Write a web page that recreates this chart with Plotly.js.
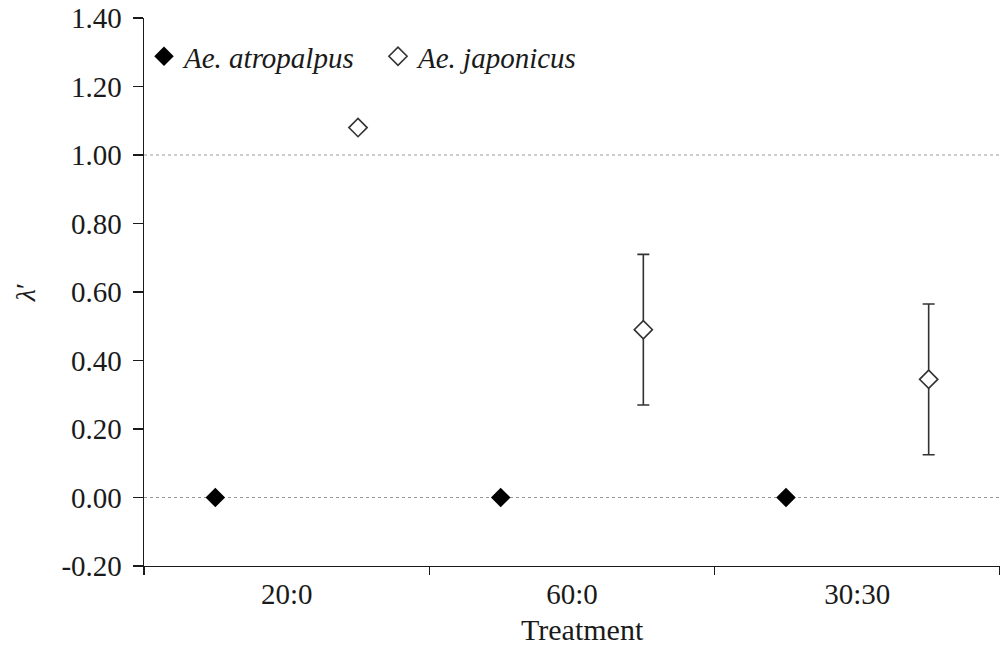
<!DOCTYPE html>
<html>
<head>
<meta charset="utf-8">
<script src="https://cdn.plot.ly/plotly-3.0.1.min.js"></script>
<style>html,body{margin:0;padding:0;background:#fff;}#chart{width:1000px;height:651px;}</style>
</head>
<body>
<div id="chart"></div>
<script>
const categories = ['20:0', '60:0', '30:30'];
const atropalpus = [0, 0, 0];
const japonicus = [1.08, 0.49, 0.345];
const japonicusErr = [null, 0.22, 0.22];
const yTickVals = [-0.2, 0, 0.2, 0.4, 0.6, 0.8, 1.0, 1.2, 1.4];
const yTickText = ['-0.20', '0.00', '0.20', '0.40', '0.60', '0.80', '1.00', '1.20', '1.40'];
const refLines = [0, 1];

const serif = '"Liberation Serif"';
const ink = '#1a1a1a';

const traces = [
  {
    type: 'scatter', mode: 'markers', name: '<i>Ae. atropalpus</i>',
    x: categories, y: atropalpus,
    marker: {symbol: 'diamond', size: 15, color: '#000', line: {width: 0}},
    offsetgroup: 'a'
  },
  {
    type: 'scatter', mode: 'markers', name: '<i>Ae. japonicus</i>',
    x: categories, y: japonicus,
    marker: {symbol: 'diamond', size: 14, color: '#fff', line: {width: 1.6, color: '#333'}},
    error_y: {type: 'data', array: japonicusErr.map(v => v === null ? NaN : v), visible: true,
              color: '#333', thickness: 1.6, width: 6},
    offsetgroup: 'b'
  }
];

const layout = {
  width: 1000, height: 651,
  margin: {l: 144, r: 0, t: 17.5, b: 85.3},
  paper_bgcolor: '#fff', plot_bgcolor: '#fff',
  font: {family: serif, size: 29, color: ink},
  showlegend: true,
  scattermode: 'group', scattergap: 0,
  legend: {orientation: 'h', x: 0, xanchor: 'left', y: 0.93, yanchor: 'middle',
           entrywidth: 189, entrywidthmode: 'pixels',
           font: {family: serif, size: 29, color: ink}, bgcolor: 'rgba(0,0,0,0)', itemclick: false},
  xaxis: {
    type: 'category', range: [-0.5, 2.5], tickson: 'boundaries',
    showline: true, linecolor: ink, linewidth: 1.4,
    ticks: 'outside', ticklen: 8, tickwidth: 1.4, tickcolor: ink,
    ticklabelstandoff: 2,
    showgrid: false, zeroline: false,
    tickfont: {family: serif, size: 29, color: ink}
  },
  yaxis: {
    range: [-0.2, 1.4], tickvals: yTickVals, ticktext: yTickText,
    showline: true, linecolor: ink, linewidth: 1.4,
    ticks: 'outside', ticklen: 10, tickwidth: 1.4, tickcolor: ink,
    ticklabelstandoff: 5,
    showgrid: false, zeroline: false,
    tickfont: {family: serif, size: 29, color: ink},
    title: {text: '<i>λ</i>′', font: {family: serif, size: 28, color: ink}, standoff: 17}
  },
  annotations: [{
    text: 'Treatment', xref: 'paper', yref: 'paper', x: 0.512, y: 0, yshift: -45,
    xanchor: 'center', yanchor: 'top', showarrow: false,
    font: {family: serif, size: 30, color: ink}
  }],
  shapes: refLines.map(v => ({
    type: 'line', xref: 'paper', x0: 0, x1: 1, yref: 'y', y0: v, y1: v,
    line: {color: '#999', width: 1, dash: 'dot'}, layer: 'below'
  }))
};

Plotly.newPlot('chart', traces, layout, {displayModeBar: false, staticPlot: true});
</script>
</body>
</html>
